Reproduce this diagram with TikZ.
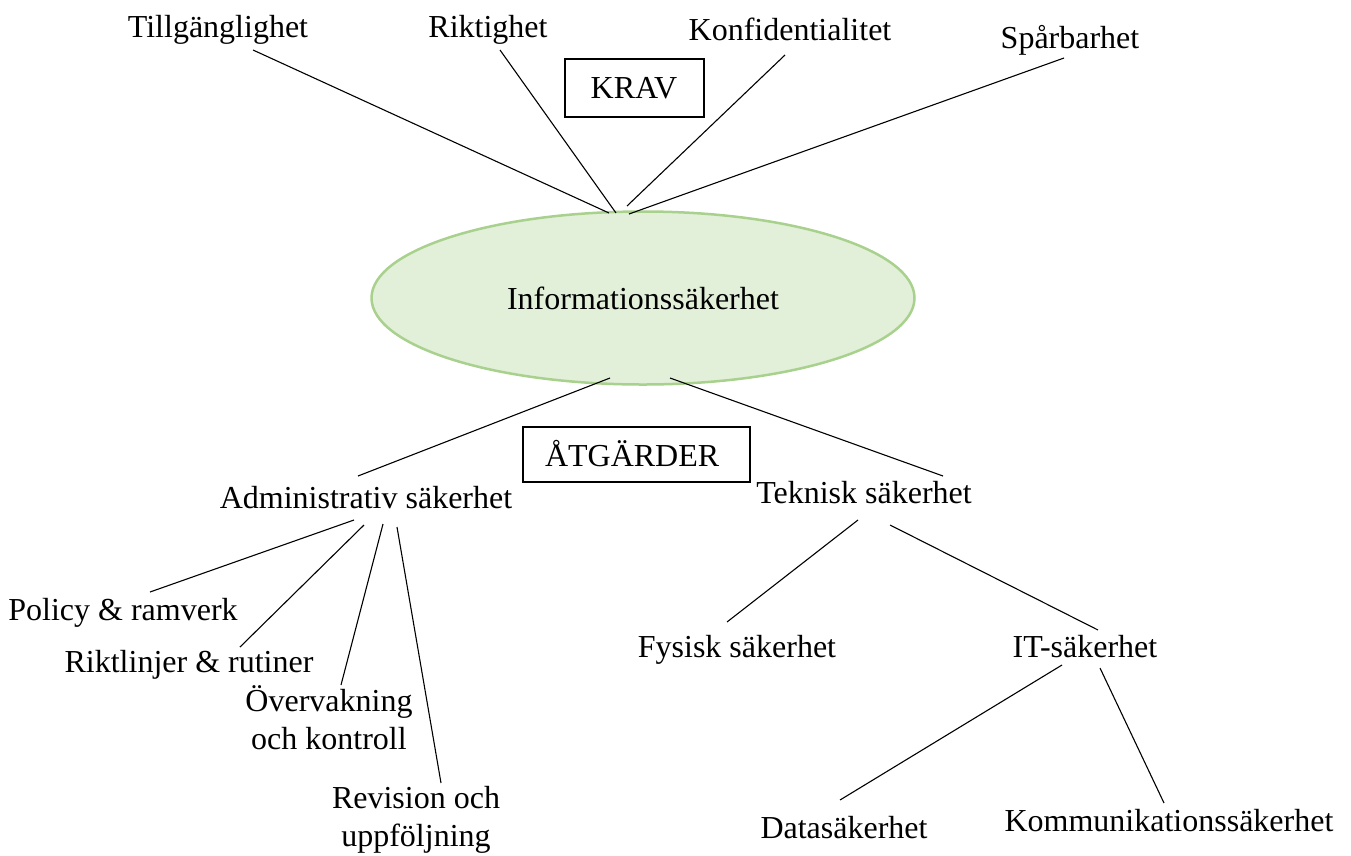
\documentclass[tikz,border=0pt]{standalone}
\usepackage{fontspec}
\setmainfont{Liberation Serif}
\usetikzlibrary{shapes.geometric,calc}
\definecolor{ellfill}{HTML}{E2EFD9}
\definecolor{elldraw}{HTML}{A9D18E}
\begin{document}
\begin{tikzpicture}[x=1pt,y=-1pt,
  lbl/.style={inner sep=0pt, anchor=base, font=\fontsize{32}{38}\selectfont},
  lbl2/.style={inner sep=0pt, anchor=center, align=center, font=\fontsize{32}{38}\selectfont},
  tagbox/.style={draw=black, line width=2pt, fill=white, inner sep=0pt, font=\fontsize{32}{38}\selectfont},
  conn/.style={draw=black, line width=1.1pt}]
\useasboundingbox (0,0) rectangle (1351,855);

% top requirement labels
\node[lbl] (till) at (218,37) {Tillgänglighet};
\node[lbl] (rikt) at (488,37) {Riktighet};
\node[lbl] (konf) at (790,40) {Konfidentialitet};
\node[lbl] (spar) at (1070,48) {Spårbarhet};
\node[tagbox, minimum width=139, minimum height=58] (krav) at (634,88) {KRAV};

% central ellipse
\node[ellipse, draw=elldraw, fill=ellfill, line width=2.5pt, inner sep=0pt,
      minimum width=543, minimum height=173,
      font=\fontsize{32}{38}\selectfont] (info) at (643,298) {Informationssäkerhet};

\node[tagbox, minimum width=227, minimum height=55, text width=182, align=left, inner xsep=22] (atg) at (636,454) {ÅTGÄRDER};

% measures
\node[lbl] (adm) at (366,508) {Administrativ säkerhet};
\node[lbl] (tek) at (864,503) {Teknisk säkerhet};
\node[lbl] (pol) at (123,620) {Policy \& ramverk};
\node[lbl] (rtl) at (189,672) {Riktlinjer \& rutiner};
\node[lbl2] (ovr) at (329,718) {Övervakning\\och kontroll};
\node[lbl2] (rev) at (416,820) {Revision och\\uppföljning};
\node[lbl] (fys) at (737,657) {Fysisk säkerhet};
\node[lbl] (its) at (1085,657) {IT-säkerhet};
\node[lbl] (dat) at (844,838) {Datasäkerhet};
\node[lbl] (kom) at (1169,831) {Kommunikationssäkerhet};

% connectors
\draw[conn] ($(till.base)+(35,13)$) -- ($(info.center)+(-34,-85)$);
\draw[conn] ($(rikt.base)+(12,13)$) -- ($(info.center)+(-27,-85)$);
\draw[conn] ($(konf.base)+(-5,15)$) -- ($(info.center)+(-16,-92)$);
\draw[conn] ($(spar.base)+(-6,10)$) -- ($(info.center)+(-14,-84)$);

\draw[conn] ($(info.center)+(-33,80)$) -- ($(adm.base)+(-8,-32)$);
\draw[conn] ($(info.center)+(27,80)$) -- ($(tek.base)+(79,-27)$);

\draw[conn] ($(adm.base)+(-12,12)$) -- ($(pol.base)+(27,-28)$);
\draw[conn] ($(adm.base)+(-2,17)$) -- ($(rtl.base)+(51,-25)$);
\draw[conn] ($(adm.base)+(17,16)$) -- ($(ovr.center)+(12,-33)$);
\draw[conn] ($(adm.base)+(31,19)$) -- ($(rev.center)+(25,-37)$);

\draw[conn] ($(tek.base)+(-6,17)$) -- ($(fys.base)+(-10,-35)$);
\draw[conn] ($(tek.base)+(26,22)$) -- ($(its.base)+(13,-27)$);
\draw[conn] ($(its.base)+(-23,8)$) -- ($(dat.base)+(-4,-38)$);
\draw[conn] ($(its.base)+(15,11)$) -- ($(kom.base)+(-5,-28)$);
\end{tikzpicture}
\end{document}
